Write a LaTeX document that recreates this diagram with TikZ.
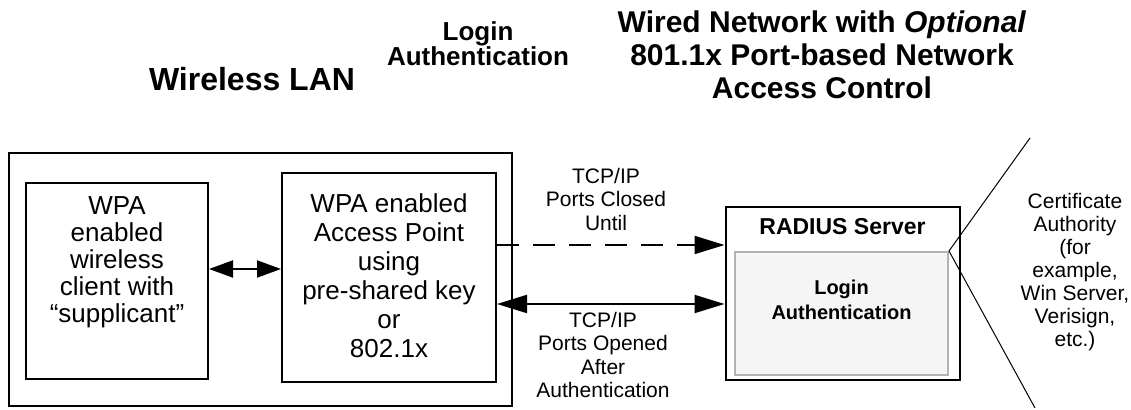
\documentclass[tikz,border=0pt]{standalone}
\usepackage{fontspec}
\setmainfont{Liberation Sans}
\usetikzlibrary{arrows.meta}

\tikzset{
  box/.style={draw, line width=1pt, inner sep=0pt},
  innerbox/.style={draw=black!30, fill=black!4, line width=1pt, inner sep=0pt},
  boxtext/.style 2 args={align=center, font=\fontsize{#1}{#2}\selectfont},
  linktext/.style={align=center, font=\fontsize{10.5}{11.75}\selectfont},
  casetext/.style={align=center, font=\fontsize{10.5}{11.5}\selectfont},
  headtext/.style 2 args={align=center, font=\bfseries\fontsize{#1}{#2}\selectfont},
  shorttip/.style={line width=1pt, {Triangle[length=12pt,width=8.5pt]}-{Triangle[length=12pt,width=8.5pt]}},
  longtip/.style={line width=1pt, -{Triangle[length=15pt,width=9pt]}},
  longtips/.style={line width=1pt, {Triangle[length=15pt,width=9pt]}-{Triangle[length=15pt,width=9pt]}}
}

\begin{document}
\begin{tikzpicture}[x=0.5pt,y=-0.5pt]

\useasboundingbox (0,0) rectangle (1131,410);

% Headings
\node[headtext={16}{17.6}] (wlanhead) at (252,79) {Wireless LAN};
\node[headtext={13}{12.5}] (loginhead) at (478,44) {Login\\Authentication};
\node[headtext={15}{16.5}] (wiredhead) at (822,55) {Wired Network with \textit{Optional}\\801.1x Port-based Network\\Access Control};

% Wireless LAN side
\node[box, minimum width=251.5pt, minimum height=126.5pt] (wlan) at (260.5,279.5) {};
\node[box, minimum width=91pt, minimum height=98pt] (client) at (117,281) {};
\node[boxtext={13}{13.5}] (clienttxt) at (117,262) {WPA\\enabled\\wireless\\client with\\“supplicant”};
\node[box, minimum width=107pt, minimum height=104.5pt] (ap) at (389,277.5) {};
\node[boxtext={13}{14.5}] (aptxt) at (389,276) {WPA enabled\\Access Point\\using\\pre-shared key\\or\\802.1x};

% RADIUS server
\node[box, minimum width=117pt, minimum height=86.5pt] (radius) at (842.5,293.5) {};
\node[headtext={11.5}{13}] (radiustxt) at (842.5,227) {RADIUS Server};
\node[innerbox, minimum width=106.5pt, minimum height=61.5pt] (login) at (841.5,313.5) {};
\node[headtext={10}{12.5}] (logintxt) at (841.5,300) {Login\\Authentication};

% Certificate authority
\coordinate (catop) at (1030,138);
\coordinate (cabottom) at (1035,408);
\draw[line width=0.5pt] (login.north east) -- (catop);
\draw[line width=0.5pt] (login.north east) -- (cabottom);
\node[casetext] (catxt) at (1075,272) {Certificate\\Authority\\(for\\example,\\Win Server,\\Verisign,\\etc.)};

% Links
\coordinate (radiorow) at (0,269);
\coordinate (closedrow) at (0,245);
\coordinate (openrow) at (0,304);
\draw[shorttip] (client.east |- radiorow) -- (ap.west |- radiorow);
\draw[longtip, dash pattern=on 11pt off 7pt] (ap.east |- closedrow) -- (radius.west |- closedrow);
\draw[longtips] (ap.east |- openrow) -- (radius.west |- openrow);
\node[linktext] (closedtxt) at (606,199) {TCP/IP\\Ports Closed\\Until};
\node[linktext] (opentxt) at (603,355) {TCP/IP\\Ports Opened\\After\\Authentication};

\end{tikzpicture}
\end{document}
